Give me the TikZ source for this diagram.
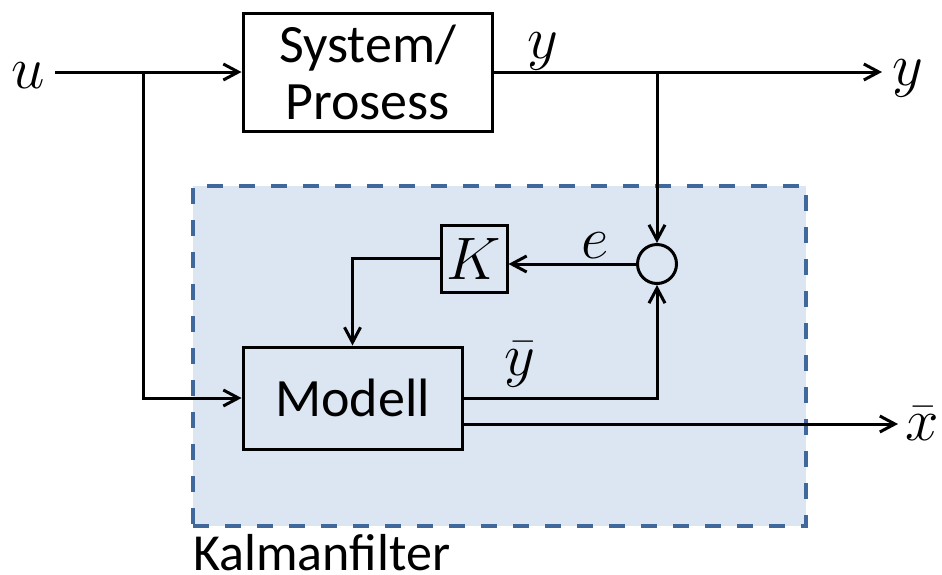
\RequirePackage{fix-cm}
\documentclass[tikz,border=0pt]{standalone}
\usepackage{fontspec}
\setmainfont{Carlito}
\usetikzlibrary{arrows.meta}
\definecolor{kfill}{RGB}{220,230,242}
\definecolor{kline}{RGB}{65,104,154}
\tikzset{
  blk/.style={draw=black, line width=1.5pt, inner sep=0pt, font=\fontsize{27}{28.5}\selectfont},
  conn/.style={line width=1.5pt, -{Straight Barb[length=7.5pt,width=8pt,line width=1.5pt]}},
  wire/.style={line width=1.5pt},
  mlabel/.style={inner sep=0pt, anchor=base, font=\fontsize{30}{36}\selectfont},
  kal/.style={draw=kline, fill=kfill, line width=2pt, dash pattern=on 8pt off 8pt, inner sep=0pt}
}
\begin{document}
\begin{tikzpicture}[x=0.5pt,y=-0.5pt]
\useasboundingbox (0,0) rectangle (942,574);
% Kalman filter region
\node[kal, minimum width=306.5pt, minimum height=170pt] (kf) at (499.5,356) {};
\node[inner sep=0pt, anchor=base west, font=\fontsize{26}{30}\selectfont] (kflabel) at (193,570) {Kalmanfilter};
% blocks
\node[blk, fill=white, minimum width=124.5pt, minimum height=59pt, align=center] (sys) at (367.5,72) {System/\\Prosess};
\node[blk, fill=kfill, minimum width=109.5pt, minimum height=51pt] (mod) at (352.5,398) {Modell};
\node[blk, fill=kfill, minimum width=33pt, minimum height=33.5pt, font=\fontsize{30}{36}\selectfont] (K) at (474,258.5) {$K$};
\node[draw=black, line width=1.5pt, circle, inner sep=0pt, minimum size=19.5pt] (circ) at (657,264) {};
% labels
\node[mlabel] (u) at (28,88) {$u$};
\node[mlabel] (y1) at (543,58) {$y$};
\node[mlabel, anchor=base west] (y2) at (892,85) {$y$};
\node[mlabel] (e) at (595,258) {$e$};
\node[mlabel] (yb) at (520,375) {$\bar{y}$};
\node[mlabel, anchor=base west] (xb) at (905,440) {$\bar{x}$};
% coordinates
\coordinate (uin) at (55,72);
\coordinate (b1) at (143,72);
\coordinate (ytip) at (882,72);
\coordinate (b2) at (657,72);
\coordinate (xtip) at (898,424);
% connectors
\draw[conn] (uin) -- (sys.west);
\draw[conn] (b1) |- (mod.west);
\draw[conn] (sys.east) -- (ytip);
\draw[conn] (b2) -- (circ.north);
\draw[conn] (circ.west) -- (circ.west -| K.east);
\draw[conn] (K.west) -| (mod.north);
\draw[conn] (mod.east) -| (circ.south);
\draw[conn] ([yshift=-13pt]mod.east) -- (xtip);
\end{tikzpicture}
\end{document}
